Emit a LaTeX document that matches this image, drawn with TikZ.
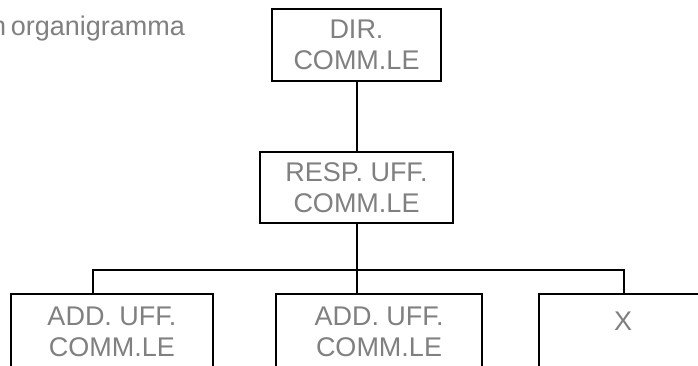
\documentclass[tikz,border=0pt]{standalone}
\usepackage{fontspec}
\setmainfont{Liberation Sans}
\usetikzlibrary{calc}
\definecolor{txtgray}{HTML}{808080}
\newcommand\narrowspaces{\spaceskip=0.18em\relax}
\begin{document}
\begin{tikzpicture}[x=1pt, y=-1pt,
  box/.style={draw=black, line width=2pt, fill=white, inner sep=0pt},
  boxtext/.style={text=txtgray, font=\fontsize{27}{31}\selectfont, align=center, inner sep=0pt},
  link/.style={draw=black, line width=2pt}]
  % page frame
  \useasboundingbox (0,0) rectangle (698,366);
  \fill[white] (0,0) rectangle (698,366);

  % caption fragment at the top left (tight word space)
  \node[anchor=base west, inner sep=0pt, text=txtgray,
        font=\fontsize{27}{31}\selectfont] (caption) at (-9.2,36) {\narrowspaces n organigramma};

  % upper levels
  \node[box, boxtext, minimum width=169pt, minimum height=72pt] (dir) at (356.5,45) {DIR.\\COMM.LE};
  \node[box, boxtext, minimum width=193pt, minimum height=71pt] (resp) at (356.5,187.5) {RESP. UFF.\\COMM.LE};

  % lower level (boxes run past the page edge)
  \node[box, boxtext, minimum width=202pt, minimum height=76pt] (add1) at (112,332) {ADD. UFF.\\COMM.LE};
  \node[box, boxtext, minimum width=206pt, minimum height=76pt] (add2) at (379,332) {ADD. UFF.\\COMM.LE};
  \node[box, minimum width=168pt, minimum height=76pt] (xbox) at (623,332) {};
  \node[boxtext, anchor=base] (xtext) at (623,330) {X};

  % bus line
  \coordinate (busL) at (93,270);
  \coordinate (busR) at (624,270);

  % connectors
  \draw[link] (dir.south) -- (resp.north);
  \draw[link] (resp.south) -- (resp.south |- add2.north);
  \draw[link] (add1.north -| busL) -- (busL) -- (busR) -- (busR |- xbox.north);
\end{tikzpicture}
\end{document}
